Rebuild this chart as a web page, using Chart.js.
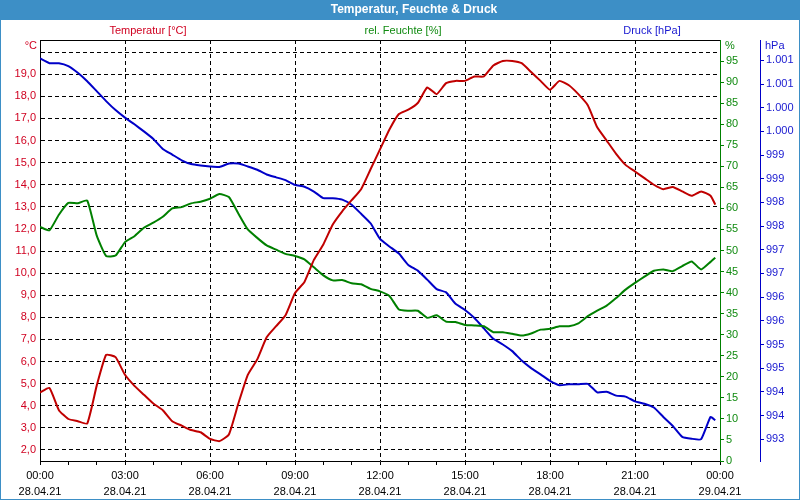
<!DOCTYPE html>
<html><head><meta charset="utf-8">
<script src="https://cdn.jsdelivr.net/npm/chart.js@4/dist/chart.umd.min.js"></script>
<style>html,body{margin:0;padding:0;background:#fff}#wrap{width:800px;height:500px}</style>
</head><body><div id="wrap"><canvas id="c" width="800" height="500"></canvas></div>
<script>
const times = ["00:00","00:20","00:40","01:00","01:20","01:40","02:00","02:20","02:40","03:00","03:20","03:40","04:00","04:20","04:40","05:00","05:20","05:40","06:00",
"06:20","06:40","07:00","07:20","07:40","08:00","08:20","08:40","09:00","09:20","09:40","10:00","10:20","10:40","11:00","11:20","11:40","12:00",
"12:20","12:40","13:00","13:20","13:40","14:00","14:20","14:40","15:00","15:20","15:40","16:00","16:20","16:40","17:00","17:20","17:40","18:00",
"18:20","18:40","19:00","19:20","19:40","20:00","20:20","20:40","21:00","21:20","21:40","22:00","22:20","22:40","23:00","23:20","23:40","23:50"];
const temperature = [4.6,4.8,3.8,3.4,3.3,3.2,4.9,6.3,6.2,5.4,4.9,4.5,4.1,3.8,3.3,3.1,2.9,2.8,2.5,
2.4,2.7,4.1,5.4,6.1,7.1,7.6,8.1,9.1,9.6,10.6,11.3,12.2,12.8,13.3,13.8,14.7,15.6,
16.5,17.2,17.4,17.7,18.4,18.1,18.6,18.7,18.7,18.9,18.9,19.4,19.6,19.6,19.5,19.1,18.7,18.3,
18.7,18.5,18.1,17.6,16.6,16.0,15.4,14.9,14.6,14.3,14.0,13.8,13.9,13.7,13.5,13.7,13.5,13.1];
const humidity = [55.6,54.8,58.5,61.3,61.2,61.9,53.6,48.7,48.8,52.0,53.4,55.4,56.6,58.0,60.0,60.3,61.2,61.6,62.3,
63.4,62.7,58.8,55.0,53.0,51.2,50.2,49.2,48.7,47.9,46.0,44.1,42.9,43.0,42.2,42.0,40.9,40.3,
39.2,36.0,35.7,35.7,34.0,34.6,33.1,33.0,32.3,32.2,32.0,30.6,30.6,30.2,29.8,30.3,31.2,31.4,
32.0,32.0,32.7,34.4,35.7,36.9,38.7,40.7,42.3,43.8,45.2,45.5,45.1,46.3,47.4,45.5,47.3,48.3];
const pressure = [1001.04,1000.94,1000.94,1000.88,1000.74,1000.56,1000.35,1000.14,999.95,999.79,999.65,999.50,999.34,999.13,999.01,998.89,998.81,998.78,998.76,
998.75,998.82,998.82,998.76,998.69,998.59,998.53,998.47,998.37,998.33,998.23,998.09,998.09,998.06,997.95,997.76,997.56,997.23,
997.07,996.92,996.68,996.56,996.37,996.17,996.10,995.86,995.73,995.56,995.34,995.12,995.00,994.86,994.66,994.50,994.37,994.23,
994.14,994.16,994.16,994.17,993.99,994.00,993.92,993.90,993.80,993.75,993.67,993.47,993.28,993.05,993.01,993.00,993.47,993.40];
const tempTicks = [2,3,4,5,6,7,8,9,10,11,12,13,14,15,16,17,18,19,20];
const dateStart = "28.04.21";
const dateEnd = "29.04.21";
const titleText = "Temperatur, Feuchte & Druck";
const seriesTitles = ["Temperatur [°C]", "rel. Feuchte [%]", "Druck [hPa]"];
const unitLabels = ["°C", "%", "hPa"];

const FONT = "'Liberation Sans', Arial, sans-serif";
const RED = '#c00000', GREEN = '#008000', BLUE = '#0000c8', BAR = '#3d8fc6';
const RED_T = '#d00020', GREEN_T = '#108a10', BLUE_T = '#1818d0';
const CLEAR = 'rgba(0,0,0,0)';

const toHours = s => { const p = s.split(':').map(Number); return p[0] + p[1] / 60; };
const pts = arr => arr.map((v, i) => ({ x: toHours(times[i]), y: v }));
const pad2 = n => (n < 10 ? '0' : '') + n;
const isStep = (v, s) => Math.abs(v / s - Math.round(v / s)) < 1e-6;

const deco = {
  id: 'deco',
  beforeDraw(chart) {
    const ctx = chart.ctx;
    ctx.save();
    ctx.fillStyle = '#fff';
    ctx.fillRect(0, 0, 800, 500);
    ctx.fillStyle = BAR;
    ctx.fillRect(0, 0, 800, 20);
    ctx.restore();
  },
  afterDraw(chart) {
    const ctx = chart.ctx, a = chart.chartArea;
    ctx.save();
    ctx.strokeStyle = '#000'; ctx.lineWidth = 1;
    ctx.beginPath(); ctx.moveTo(a.left, a.top + 0.5); ctx.lineTo(a.right, a.top + 0.5); ctx.stroke();
    ctx.strokeStyle = BAR; ctx.lineWidth = 1;
    ctx.strokeRect(0.5, 0.5, 799, 499);
    ctx.textBaseline = 'middle';
    ctx.textAlign = 'center';
    ctx.fillStyle = '#fff';
    ctx.font = 'bold 12px ' + FONT;
    ctx.fillText(titleText, 414, 10);
    ctx.font = '11px ' + FONT;
    ctx.fillStyle = RED_T; ctx.fillText(seriesTitles[0], 148, 31);
    ctx.fillStyle = GREEN_T; ctx.fillText(seriesTitles[1], 403, 31);
    ctx.fillStyle = BLUE_T; ctx.fillText(seriesTitles[2], 652, 31);
    ctx.textAlign = 'right';
    ctx.fillStyle = RED_T; ctx.fillText(unitLabels[0], 37, 46);
    ctx.textAlign = 'left';
    ctx.fillStyle = GREEN_T; ctx.fillText(unitLabels[1], 725, 46);
    ctx.fillStyle = BLUE_T; ctx.fillText(unitLabels[2], 765, 46);
    ctx.restore();
  }
};

const font11 = { family: FONT, size: 11 };

new Chart(document.getElementById('c'), {
  type: 'line',
  data: {
    datasets: [
      { label: seriesTitles[0], data: pts(temperature), yAxisID: 'yT', borderColor: RED, borderWidth: 2, pointRadius: 0, tension: 0.15, fill: false },
      { label: seriesTitles[1], data: pts(humidity), yAxisID: 'yH', borderColor: GREEN, borderWidth: 2, pointRadius: 0, tension: 0.15, fill: false },
      { label: seriesTitles[2], data: pts(pressure), yAxisID: 'yP', borderColor: BLUE, borderWidth: 2, pointRadius: 0, tension: 0.15, fill: false }
    ]
  },
  options: {
    responsive: false, animation: false,
    layout: { padding: { top: 40, left: 0, right: 0, bottom: 0 } },
    plugins: { legend: { display: false }, tooltip: { enabled: false }, title: { display: false } },
    scales: {
      x: {
        type: 'linear', min: 0, max: 24,
        ticks: { stepSize: 1, autoSkip: false, maxRotation: 0, minRotation: 0, color: '#000', padding: 3,
          font: { family: FONT, size: 11, lineHeight: 1.45 },
          callback: v => isStep(v, 3) ? [pad2(v % 24) + ':00', v < 24 ? dateStart : dateEnd] : '' },
        grid: { color: c => (c.tick && isStep(c.tick.value, 3) && c.tick.value > 0 && c.tick.value < 24) ? '#000' : CLEAR,
          tickColor: '#000', tickLength: 4, lineWidth: 1, tickBorderDash: [] },
        border: { display: true, color: '#000', width: 1, dash: [4, 3] },
        afterFit: s => { s.height = 39; }
      },
      yT: {
        position: 'left', min: 1.5, max: 20.55,
        afterBuildTicks: s => { s.ticks = tempTicks.map(v => ({ value: v })); },
        ticks: { stepSize: 1, color: RED_T, font: font11, padding: 4,
          callback: v => (v < 20) ? v.toFixed(1).replace('.', ',') : '' },
        grid: { color: '#000', drawTicks: false },
        border: { display: true, color: '#000', width: 1, dash: [4, 3] },
        afterFit: s => { s.width = 40; }
      },
      yH: {
        position: 'right', weight: 0, min: 0, max: 100,
        ticks: { stepSize: 5, color: GREEN_T, font: font11, padding: 2,
          callback: v => (isStep(v, 5) && v < 100) ? String(v) : '' },
        grid: { drawOnChartArea: false, tickLength: 4, tickColor: c => (c.tick && c.tick.value < 100) ? GREEN : CLEAR, color: GREEN },
        border: { display: true, color: GREEN, width: 1 },
        afterFit: s => { s.width = 40; }
      },
      yP: {
        position: 'right', weight: 1, min: 992.54, max: 1001.43,
        ticks: { stepSize: 0.5, color: BLUE_T, font: font11, padding: 2,
          callback: v => isStep(v, 0.5) ? Math.round(v).toLocaleString('de-DE') : '' },
        grid: { drawOnChartArea: false, tickLength: 4, tickColor: c => (c.tick && isStep(c.tick.value, 0.5)) ? BLUE : CLEAR, color: BLUE },
        border: { display: true, color: BLUE, width: 1 },
        afterFit: s => { s.width = 40; }
      }
    }
  },
  plugins: [deco]
});
</script>
</body></html>
